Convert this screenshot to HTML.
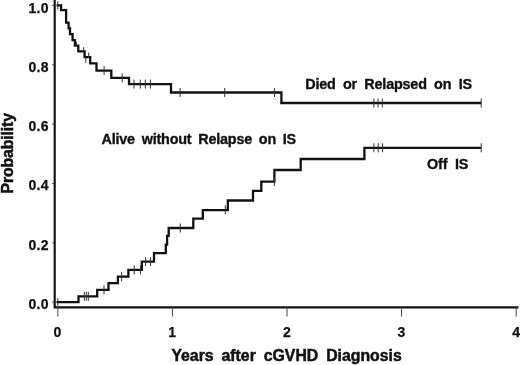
<!DOCTYPE html>
<html><head><meta charset="utf-8">
<style>
html,body{margin:0;padding:0;background:#fff;}
body{width:520px;height:365px;overflow:hidden;position:relative;}
svg{position:absolute;left:0;top:0;display:block;}
text{font-family:"Liberation Sans",Arial,Helvetica,sans-serif;fill:#111;}
.tk{font-size:14px;font-weight:bold;letter-spacing:0.35px;stroke:#111;stroke-width:0.25px;}
.lb{font-size:14.4px;letter-spacing:-0.2px;font-weight:bold;stroke:#111;stroke-width:0.35px;}
.ti{font-size:15.7px;font-weight:bold;stroke:#111;stroke-width:0.5px;}
</style></head><body>
<svg width="520" height="365" viewBox="0 0 520 365">
<rect width="520" height="365" fill="#fff"/>
<!-- axes -->
<g stroke="#111" fill="none">
<path d="M54.7 0V307.3H518.5" stroke-width="2.15"/>
<!-- y ticks -->
<path d="M52 5.4H54M52 64.8H54M52 124.1H54M52 183.5H54M52 242.8H54M52 302.2H54" stroke-width="1" stroke="#555"/>
<!-- x ticks -->
<path d="M57.8 298V316.5M172.4 307V316.5M287 307V316.5M401.6 307V316.5M516.2 307V316.5" stroke-width="1" stroke="#444"/>
<!-- top curve -->
<path id="c1" stroke-width="2.3" stroke-linejoin="miter" d="M56.5 5.4H61.1V10.2H66.1V22.7H68.6V28.3H70V34.2H72.6V40.1H74.9V45.7H78.3V51.4H84.6V57.1H90.2V63.4H96.5V70.6H111.3V77.8H129V84.1H171V92.5H281.4V103H481.2"/>
<!-- bottom curve -->
<path id="c2" stroke-width="2.3" stroke-linejoin="miter" d="M56.5 302.2H78.5V296.3H97.2V289.9H108.5V283.2H117.9V276.7H128.4V269.9H141.8V261.6H154V253.2H165.8V244.6H167.1V235.8H168.7V228H193.3V218.6H202.8V210.1H227.8V200.5H253V190.9H261.3V181.6H274.4V170H300.7V159H364.4V147.8H481.2"/>
<!-- censor ticks -->
<g stroke-width="1" stroke="#333">
<path d="M57.8 1.2V9.6M76.4 41.5V46M83.7 47V52M88.7 52.5V58M85.8 58V63M104.1 66V75M122.2 73.3V82.3M134 79.6V88.6M140.3 79.6V88.6M145.3 79.6V88.6M150.4 79.6V88.6M180.1 88V97M224.7 88V97M274.6 88V97M373.9 98.5V107.5M378 98.5V107.5M382.3 98.5V107.5M481.2 98.5V107.5"/>
<path d="M84.3 291.8V300.8M86.3 291.8V300.8M88.3 291.8V300.8M104 285.4V294.4M121.6 272.2V281.2M134.2 265.4V274.4M140.5 265.4V274.4M145.6 257.1V266.1M150.6 257.1V266.1M180.3 223.5V232.5M225.3 205.6V214.6M274.4 177V186M373.9 143.3V152.3M378.2 143.3V152.3M382.6 143.3V152.3M481.2 143.3V152.3"/>
</g>
</g>
<!-- y tick labels -->
<g class="tk" text-anchor="end">
<text x="48.9" y="12.6">1.0</text>
<text x="48.9" y="72.1">0.8</text>
<text x="48.9" y="130.8">0.6</text>
<text x="48.9" y="190.2">0.4</text>
<text x="48.9" y="249.6">0.2</text>
<text x="48.9" y="308.9">0.0</text>
</g>
<g class="tk" text-anchor="middle">
<text x="57.5" y="337">0</text>
<text x="172.4" y="337">1</text>
<text x="287" y="337">2</text>
<text x="401.6" y="337">3</text>
<text x="516.3" y="337">4</text>
</g>
<text class="lb" x="305.3" y="89.3" style="word-spacing:3.55px">Died or Relapsed on IS</text>
<text class="lb" x="101.5" y="144.3" style="word-spacing:3px">Alive without Relapse on IS</text>
<text class="lb" x="427.1" y="169.1" style="word-spacing:3.9px">Off IS</text>
<text class="ti" x="171.4" y="360.8" style="font-size:15.8px;word-spacing:3.6px">Years after cGVHD Diagnosis</text>
<text class="ti" style="font-size:15.8px;letter-spacing:-0.12px" transform="translate(12.9 193.4) rotate(-90)">Probability</text>
</svg>
</body></html>
